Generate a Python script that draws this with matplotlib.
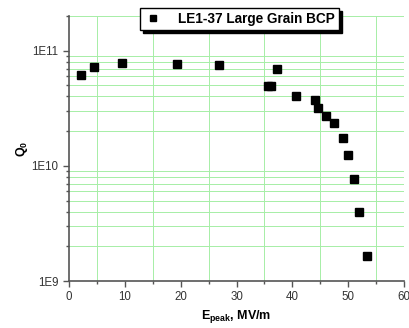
import matplotlib
matplotlib.use("Agg")
import matplotlib.pyplot as plt
import numpy as np
from matplotlib.ticker import LogLocator, FixedLocator, NullFormatter, FixedFormatter

plt.rcParams['font.family'] = ['Liberation Sans', 'DejaVu Sans']

e_peak = [2.1, 4.5, 9.5, 19.3, 26.8, 35.6, 36.1, 37.2, 40.7, 44.0, 44.6, 46.0, 47.4, 49.0, 50.0, 51.1, 51.9, 53.3]
q0 = [6.1e10, 7.2e10, 7.75e10, 7.65e10, 7.45e10, 4.9e10, 4.95e10, 6.95e10, 4.05e10, 3.75e10, 3.15e10, 2.72e10,
      2.37e10, 1.75e10, 1.24e10, 7.7e9, 4.0e9, 1.65e9]
series_label = "LE1-37 Large Grain BCP"
x_ticks = [0, 10, 20, 30, 40, 50, 60]
y_ticks = [1e9, 1e10, 1e11]
y_tick_labels = ["1E9", "1E10", "1E11"]

fig = plt.figure(figsize=(4.09, 3.28), dpi=100)
ax = fig.add_axes([69/409, 1-281/328, (404-69)/409, (281-16)/328])

ax.set_yscale('log')
ax.set_xlim(0, 60)
ax.set_ylim(1e9, 2e11)

grid_c = '#a6eea6'
ax.xaxis.set_major_locator(FixedLocator(x_ticks))
ax.xaxis.set_minor_locator(FixedLocator([5, 15, 25, 35, 45, 55]))
ax.yaxis.set_major_locator(FixedLocator(y_ticks))
ax.yaxis.set_major_formatter(FixedFormatter(y_tick_labels))
ax.yaxis.set_minor_locator(LogLocator(base=10, subs=np.arange(2, 10), numticks=20))
ax.yaxis.set_minor_formatter(NullFormatter())
ax.grid(which='minor', color=grid_c, linewidth=0.7)
ax.grid(which='major', visible=False)
ax.set_axisbelow(True)

ax.plot(e_peak, q0, linestyle='none', marker='s', markersize=5.5, color='black', label=series_label, zorder=3)

for s in ['top', 'right']:
    ax.spines[s].set_visible(False)
for s in ['left', 'bottom']:
    ax.spines[s].set_color('#555555')
    ax.spines[s].set_linewidth(1.2)

ax.tick_params(which='major', direction='out', length=4, width=1, color='#555555', labelsize=8.3, labelcolor='#333333')
ax.tick_params(which='minor', direction='out', length=2.5, width=1, color='#555555')

ax.set_xlabel(r'E$_{\mathregular{peak}}$, MV/m', fontsize=9, fontweight='bold', labelpad=3)
ax.set_ylabel(r'Q$_{\mathregular{0}}$', fontsize=9, fontweight='bold', labelpad=1)

leg = fig.legend(loc='upper left', bbox_to_anchor=(140/409, 1-8/328),
                 prop={'weight': 'bold', 'size': 9.8}, frameon=True, fancybox=False,
                 shadow={'color': 'black', 'alpha': 1}, handletextpad=1.2, borderpad=0.3,
                 handlelength=1.3, markerscale=0.85, borderaxespad=0)
leg.get_frame().set_edgecolor('black')
leg.get_frame().set_linewidth(1)

fig.savefig('out.png', dpi=100)
